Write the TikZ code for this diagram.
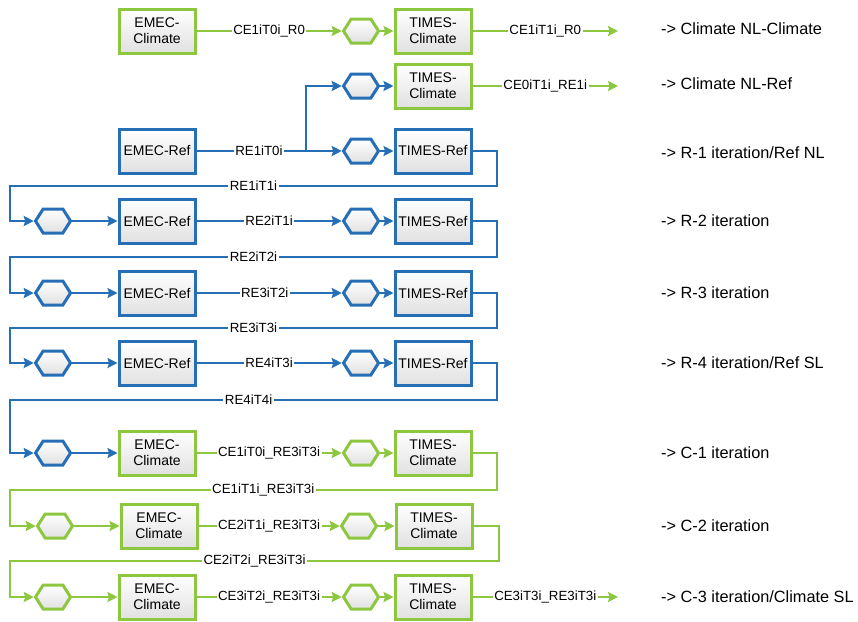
\documentclass[tikz,border=0pt]{standalone}
\usepackage{fontspec}
\setmainfont{Liberation Sans}
\usetikzlibrary{shapes.symbols,arrows.meta,shadows}
\definecolor{rblue}{RGB}{38,110,182}
\definecolor{cgreen}{RGB}{141,198,63}
\begin{document}
\begin{tikzpicture}[x=1pt,y=-1pt,
  box/.style={draw, line width=3pt, minimum width=76pt, minimum height=44pt,
    top color=white, bottom color=black!12, align=center, text=black,
    drop shadow={opacity=0.18, shadow xshift=1.2pt, shadow yshift=-1.2pt},
    font=\fontsize{14}{16}\selectfont, inner sep=1pt},
  hexa/.style={shape=signal, signal to=east and west, signal pointer angle=115,
    draw, line width=3pt, minimum width=35pt, minimum height=24pt,
    top color=white, bottom color=black!12, inner sep=0pt},
  conn/.style={line width=2.3pt},
  arr/.style={conn, -{Stealth[length=10pt,width=10pt,inset=1.5pt]}},
  elab/.style={fill=white, text=black, inner sep=1.5pt, font=\fontsize{13.3}{15}\selectfont},
  rlab/.style={anchor=west, inner sep=0pt, font=\fontsize{16.3}{18}\selectfont}
]
\useasboundingbox (0,0) rectangle (858,621);

% ---------- row 0 ----------
\node[box, draw=cgreen] (e0) at (157,31) {EMEC-\\Climate};
\node[hexa, draw=cgreen] (h0) at (361,31) {};
\node[box, draw=cgreen] (t0) at (433,31) {TIMES-\\Climate};
\coordinate (o0) at (618,31);
\draw[arr, cgreen] (e0) -- node[elab]{CE1iT0i\_R0} (h0);
\draw[arr, cgreen] (h0) -- (t0);
\draw[arr, cgreen] (t0) -- node[elab]{CE1iT1i\_R0} (o0);
\node[rlab] (l0) at (661,29) {-> Climate NL-Climate};

% ---------- row 1 ----------
\node[hexa, draw=rblue] (h1) at (361,86) {};
\node[box, draw=cgreen] (t1) at (433,86) {TIMES-\\Climate};
\coordinate (o1) at (618,86);
\draw[arr, rblue] (h1) -- (t1);
\draw[arr, cgreen] (t1) -- node[elab]{CE0iT1i\_RE1i} (o1);
\node[rlab] (l1) at (661,84) {-> Climate NL-Ref};

% ---------- row 2 ----------
\node[box, draw=rblue] (e2) at (157,151) {EMEC-Ref};
\node[hexa, draw=rblue] (h2) at (361,151) {};
\node[box, draw=rblue] (t2) at (433,151) {TIMES-Ref};
\coordinate (j) at (306,151);
\draw[arr, rblue] (e2) -- node[elab, pos=0.43]{RE1iT0i} (h2);
\draw[arr, rblue] (j) |- (h1);
\draw[arr, rblue] (h2) -- (t2);
\node[rlab] (l2) at (661,153) {-> R-1 iteration/Ref NL};

% ---------- row 3 ----------
\node[hexa, draw=rblue] (a3) at (53,221) {};
\node[box, draw=rblue] (e3) at (157,221) {EMEC-Ref};
\node[hexa, draw=rblue] (h3) at (361,221) {};
\node[box, draw=rblue] (t3) at (433,221) {TIMES-Ref};
\draw[arr, rblue] (t2) -| (497,186) -- node[elab]{RE1iT1i} (10,186) |- (a3);
\draw[arr, rblue] (a3) -- (e3);
\draw[arr, rblue] (e3) -- node[elab]{RE2iT1i} (h3);
\draw[arr, rblue] (h3) -- (t3);
\node[rlab] (l3) at (661,221) {-> R-2 iteration};

% ---------- row 4 ----------
\node[hexa, draw=rblue] (a4) at (53,293) {};
\node[box, draw=rblue] (e4) at (157,293) {EMEC-Ref};
\node[hexa, draw=rblue] (h4) at (361,293) {};
\node[box, draw=rblue] (t4) at (433,293) {TIMES-Ref};
\draw[arr, rblue] (t3) -| (497,257) -- node[elab]{RE2iT2i} (10,257) |- (a4);
\draw[arr, rblue] (a4) -- (e4);
\draw[arr, rblue] (e4) -- node[elab, pos=0.47]{RE3iT2i} (h4);
\draw[arr, rblue] (h4) -- (t4);
\node[rlab] (l4) at (661,293) {-> R-3 iteration};

% ---------- row 5 ----------
\node[hexa, draw=rblue] (a5) at (53,363) {};
\node[box, draw=rblue] (e5) at (157,363) {EMEC-Ref};
\node[hexa, draw=rblue] (h5) at (361,363) {};
\node[box, draw=rblue] (t5) at (433,363) {TIMES-Ref};
\draw[arr, rblue] (t4) -| (497,328) -- node[elab]{RE3iT3i} (10,328) |- (a5);
\draw[arr, rblue] (a5) -- (e5);
\draw[arr, rblue] (e5) -- node[elab]{RE4iT3i} (h5);
\draw[arr, rblue] (h5) -- (t5);
\node[rlab] (l5) at (661,363) {-> R-4 iteration/Ref SL};

% ---------- row 6 ----------
\node[hexa, draw=rblue] (a6) at (53,453) {};
\node[box, draw=cgreen] (e6) at (157,453) {EMEC-\\Climate};
\node[hexa, draw=cgreen] (h6) at (361,453) {};
\node[box, draw=cgreen] (t6) at (433,453) {TIMES-\\Climate};
\draw[arr, rblue] (t5) -| (497,400) -- node[elab, pos=0.51]{RE4iT4i} (10,400) |- (a6);
\draw[arr, rblue] (a6) -- (e6);
\draw[arr, cgreen] (e6) -- node[elab]{CE1iT0i\_RE3iT3i} (h6);
\draw[arr, cgreen] (h6) -- (t6);
\node[rlab] (l6) at (661,453) {-> C-1 iteration};

% ---------- row 7 ----------
\node[hexa, draw=cgreen] (a7) at (55,526) {};
\node[box, draw=cgreen] (e7) at (159,526) {EMEC-\\Climate};
\node[hexa, draw=cgreen] (h7) at (359,526) {};
\node[box, draw=cgreen] (t7) at (434,526) {TIMES-\\Climate};
\draw[arr, cgreen] (t6) -| (497,490) -- node[elab, pos=0.48]{CE1iT1i\_RE3iT3i} (10,490) |- (a7);
\draw[arr, cgreen] (a7) -- (e7);
\draw[arr, cgreen] (e7) -- node[elab]{CE2iT1i\_RE3iT3i} (h7);
\draw[arr, cgreen] (h7) -- (t7);
\node[rlab] (l7) at (661,526) {-> C-2 iteration};

% ---------- row 8 ----------
\node[hexa, draw=cgreen] (a8) at (53,597) {};
\node[box, draw=cgreen] (e8) at (157,597) {EMEC-\\Climate};
\node[hexa, draw=cgreen] (h8) at (361,597) {};
\node[box, draw=cgreen] (t8) at (433,597) {TIMES-\\Climate};
\coordinate (o8) at (618,597);
\draw[arr, cgreen] (t7) -| (499,561) -- node[elab, pos=0.5]{CE2iT2i\_RE3iT3i} (10,561) |- (a8);
\draw[arr, cgreen] (a8) -- (e8);
\draw[arr, cgreen] (e8) -- node[elab]{CE3iT2i\_RE3iT3i} (h8);
\draw[arr, cgreen] (h8) -- (t8);
\draw[arr, cgreen] (t8) -- node[elab]{CE3iT3i\_RE3iT3i} (o8);
\node[rlab] (l8) at (661,597) {-> C-3 iteration/Climate SL};
\end{tikzpicture}
\end{document}
